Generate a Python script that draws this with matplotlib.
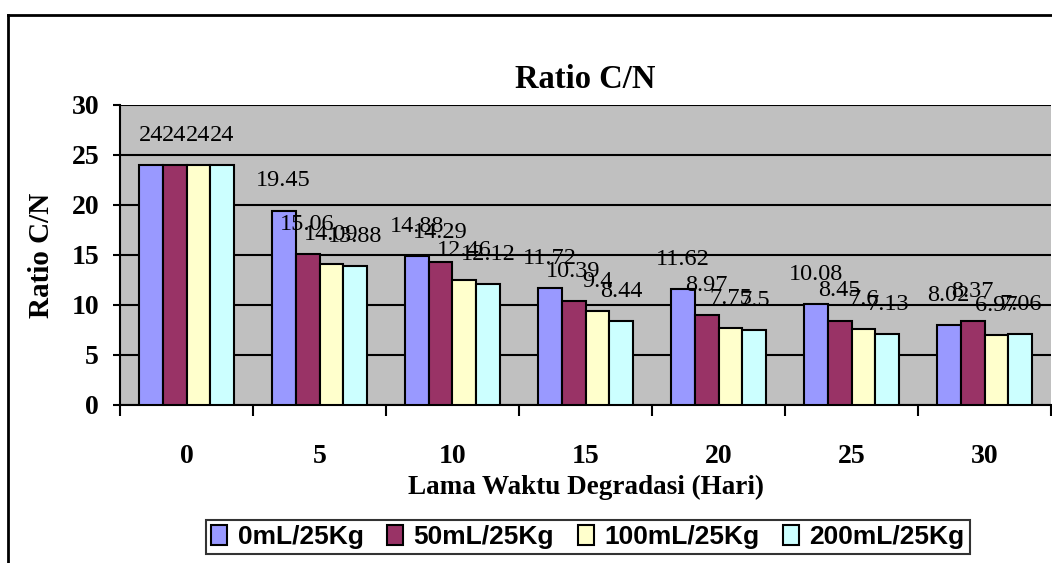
import matplotlib.pyplot as plt
import numpy as np
from matplotlib import font_manager
from matplotlib.lines import Line2D

days = ["0", "5", "10", "15", "20", "25", "30"]
series_names = ["0mL/25Kg", "50mL/25Kg", "100mL/25Kg", "200mL/25Kg"]
dose_0 = [24, 19.45, 14.88, 11.72, 11.62, 10.08, 8.02]
dose_50 = [24, 15.06, 14.29, 10.39, 8.97, 8.45, 8.37]
dose_100 = [24, 14.09, 12.46, 9.4, 7.75, 7.6, 6.97]
dose_200 = [24, 13.88, 12.12, 8.44, 7.5, 7.13, 7.06]
colors = ["#9999FF", "#993366", "#FFFFCC", "#CCFFFF"]

serif = ["Liberation Serif", "DejaVu Serif"]
names = {f.name for f in font_manager.fontManager.ttflist}
legend_font = "Liberation Sans Narrow" if "Liberation Sans Narrow" in names else "Liberation Sans"

fig = plt.figure(figsize=(10.52, 5.63), dpi=100)
ax = fig.add_axes([120 / 1052, 1 - 405 / 563, 931 / 1052, 300 / 563])
ax.set_facecolor("#C0C0C0")

x = np.arange(len(days))
w = 0.18
handles = []
for i, (vals, c) in enumerate(zip([dose_0, dose_50, dose_100, dose_200], colors)):
    bars = ax.bar(x + (i - 1.5) * w, vals, w, color=c, edgecolor="black",
                  linewidth=1.5, zorder=3)
    handles.append(bars)
    for xi, v in zip(x + (i - 1.5) * w, vals):
        ax.annotate(f"{v:g}", (xi, v), xytext=(0, 19), textcoords="offset pixels",
                    ha="center", va="bottom", fontsize=17.5, family=serif,
                    zorder=4, annotation_clip=False)

ax.set_ylim(0, 30)
ax.set_xlim(-0.5, len(days) - 0.5)
ax.set_yticks(range(0, 31, 5))
ax.yaxis.grid(True, color="black", linewidth=1.5, zorder=1)
ax.set_axisbelow(True)
ax.set_xticks(x)
ax.set_xticklabels(days)
ax.set_xticks(np.arange(-0.5, len(days)), minor=True)
ax.tick_params(axis="x", which="major", length=0, pad=28)
ax.tick_params(axis="x", which="minor", length=8, width=1.5, direction="out")
ax.tick_params(axis="y", length=5, width=1.5, pad=10)
for lab in ax.get_xticklabels() + ax.get_yticklabels():
    lab.set_family(serif)
    lab.set_fontweight("bold")
    lab.set_fontsize(20)
for s in ["top", "right"]:
    ax.spines[s].set_visible(False)
ax.spines["left"].set_linewidth(1.5)
ax.spines["bottom"].set_linewidth(1.5)

ax.set_title("Ratio C/N", family=serif, fontweight="bold", fontsize=23.5, pad=12)
ax.set_ylabel("Ratio C/N", family=serif, fontweight="bold", fontsize=21, labelpad=12)
ax.set_xlabel("Lama Waktu Degradasi (Hari)", family=serif, fontweight="bold",
              fontsize=19.5, labelpad=4)

leg = fig.legend(handles, series_names, loc="center", ncol=4,
                 bbox_to_anchor=(588 / 1052, 1 - 537 / 563),
                 prop={"family": legend_font, "weight": "bold", "size": 19},
                 frameon=True, fancybox=False, edgecolor="black",
                 handlelength=0.6, handleheight=0.8, handletextpad=0.4,
                 columnspacing=0.9, borderpad=0.2)
leg.get_frame().set_linewidth(1.5)

# outer chart frame
fig.add_artist(Line2D([8 / 1052, 1], [1 - 15 / 563] * 2, color="black", lw=2,
                      transform=fig.transFigure))
fig.add_artist(Line2D([8 / 1052] * 2, [0, 1 - 15 / 563], color="black", lw=2,
                      transform=fig.transFigure))

fig.savefig("out.png", dpi=100)
